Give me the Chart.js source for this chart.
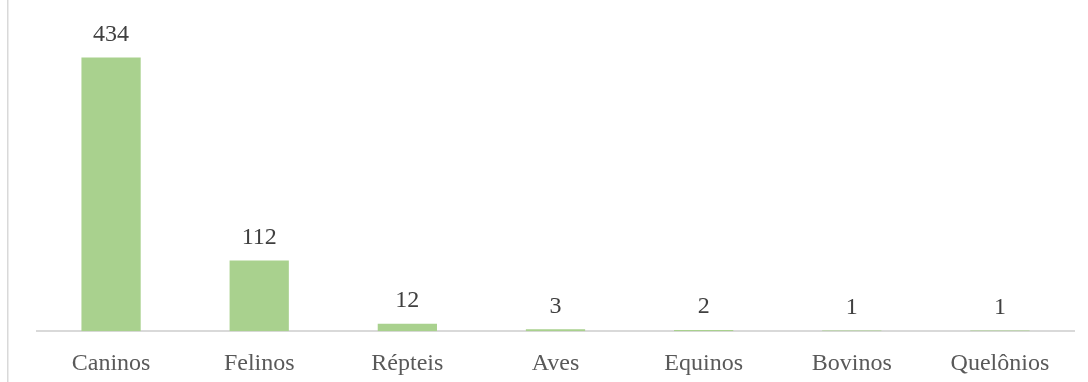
<!DOCTYPE html>
<html>
<head>
<meta charset="utf-8">
<script src="https://cdn.jsdelivr.net/npm/chart.js@4/dist/chart.umd.min.js"></script>
<style>
  html, body { margin: 0; padding: 0; background: #ffffff; }
  #wrap { position: relative; width: 1088px; height: 382px; }
</style>
</head>
<body>
<div id="wrap"><canvas id="c" width="1088" height="382"></canvas></div>
<script>
const categories = ["Caninos", "Felinos", "Répteis", "Aves", "Equinos", "Bovinos", "Quelônios"];
const counts = [434, 112, 12, 3, 2, 1, 1];

const serif = "'Liberation Serif', 'Times New Roman', serif";

const valueLabels = {
  id: 'valueLabels',
  afterDatasetsDraw(chart) {
    const ctx = chart.ctx;
    const meta = chart.getDatasetMeta(0);
    ctx.save();
    ctx.font = "24px " + serif;
    ctx.fillStyle = "#404040";
    ctx.textAlign = "center";
    ctx.textBaseline = "alphabetic";
    meta.data.forEach((bar, i) => {
      ctx.fillText(String(counts[i]), bar.x, bar.y - 16.5);
    });
    ctx.restore();
  }
};

const frame = {
  id: 'frame',
  beforeDraw(chart) {
    const ctx = chart.ctx;
    ctx.save();
    ctx.fillStyle = "#ffffff";
    ctx.fillRect(0, 0, chart.width, chart.height);
    ctx.fillStyle = "#d9d9d9";
    ctx.fillRect(7, 0, 1.5, chart.height);
    ctx.restore();
  }
};

new Chart(document.getElementById('c'), {
  type: 'bar',
  data: {
    labels: categories,
    datasets: [{
      data: counts,
      backgroundColor: "#a9d18e",
      borderWidth: 0,
      barPercentage: 0.4,
      categoryPercentage: 1.0
    }]
  },
  options: {
    responsive: false,
    animation: false,
    layout: { padding: { left: 37, right: 14, top: 16, bottom: -14 } },
    plugins: { legend: { display: false }, tooltip: { enabled: false } },
    scales: {
      x: {
        grid: { display: false, drawTicks: false },
        border: { display: true, color: "#d9d9d9", width: 2 },
        ticks: { color: "#595959", font: { family: serif, size: 24 }, padding: 18, maxRotation: 0 }
      },
      y: {
        display: false,
        min: 0,
        max: 500
      }
    }
  },
  plugins: [frame, valueLabels]
});
</script>
</body>
</html>
